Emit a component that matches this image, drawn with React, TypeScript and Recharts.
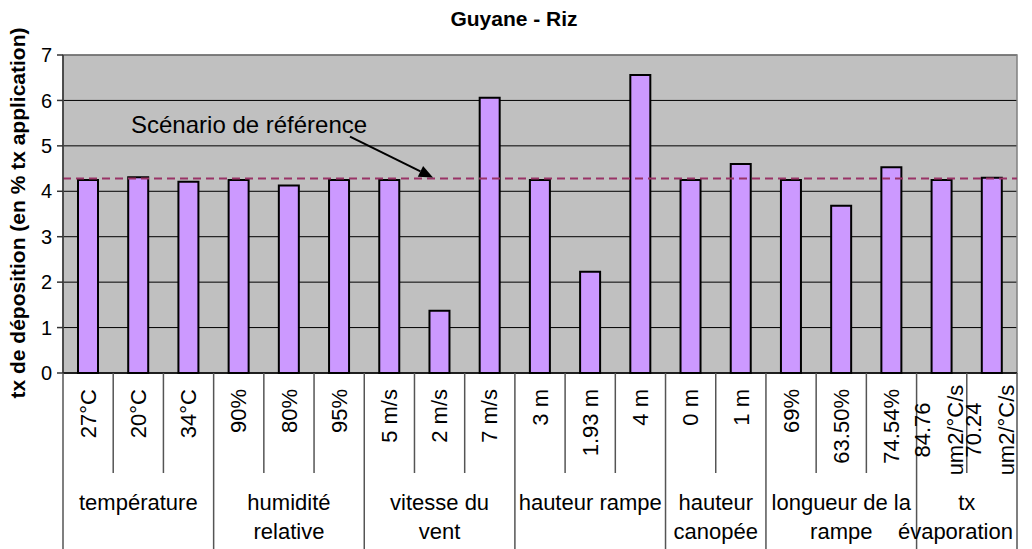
import React from 'react';
import { BarChart, Bar, XAxis, YAxis, CartesianGrid, ReferenceLine, ReferenceArea } from 'recharts';

// category tick labels (one entry per bar, multi-line labels split in arrays)
const categoryLabels: string[][] = [
  ['27°C'], ['20°C'], ['34°C'],
  ['90%'], ['80%'], ['95%'],
  ['5 m/s'], ['2 m/s'], ['7 m/s'],
  ['3 m'], ['1.93 m'], ['4 m'],
  ['0 m'], ['1 m'],
  ['69%'], ['63.50%'], ['74.54%'],
  ['84.76', 'um2/°C/s'], ['70.24', 'um2/°C/s'],
];

// deposition rate
const depositionValues = [4.25, 4.31, 4.21, 4.25, 4.13, 4.25, 4.25, 1.37, 6.06, 4.25, 2.23, 6.56, 4.25, 4.6, 4.25, 3.68, 4.53, 4.25, 4.3];

// parameter groups (second level of the category axis)
const groupLabels: string[][] = [
  ['température'],
  ['humidité', 'relative'],
  ['vitesse du', 'vent'],
  ['hauteur rampe'],
  ['hauteur', 'canopée'],
  ['longueur de la', 'rampe'],
  ['tx', 'évaporation'],
];
const groupSizes = [3, 3, 3, 3, 2, 3, 2];

const yTicks = [0, 1, 2, 3, 4, 5, 6, 7];
const referenceValue = 4.28;

const data = categoryLabels.map((label, i) => ({ name: label.join(' '), value: depositionValues[i] }));

// index of first category of every group
const groupStarts = groupSizes.map((_, g) => groupSizes.slice(0, g).reduce((a, b) => a + b, 0));

const FONT = '"Liberation Sans", Arial, sans-serif';
const WIDTH = 1032;
const HEIGHT = 549;
const MARGIN = { top: 55, right: 15, bottom: 0, left: 0 };
const Y_AXIS_WIDTH = 63;
const X_AXIS_HEIGHT = 176;
const PLOT_RIGHT = WIDTH - MARGIN.right;
const band = (WIDTH - MARGIN.left - MARGIN.right - Y_AXIS_WIDTH) / categoryLabels.length;

const CategoryTick = (props: any) => {
  const { x, y, payload } = props;
  const i = payload.index as number;
  const lines = categoryLabels[i];
  const left = x - band / 2;
  const g = groupStarts.indexOf(i);
  const isLast = i === categoryLabels.length - 1;
  const bottom = y + X_AXIS_HEIGHT;

  return (
    <g>
      <line x1={left} y1={y} x2={left} y2={g >= 0 ? bottom : y + 100} stroke="#555" strokeWidth={1.5} />
      {isLast && <line x1={x + band / 2} y1={y} x2={x + band / 2} y2={bottom} stroke="#555" strokeWidth={1.5} />}
      {lines.length === 1 ? (
        <text
          x={x}
          y={y + 16}
          transform={`rotate(-90 ${x} ${y + 16})`}
          textAnchor="end"
          dy="0.35em"
          fontSize={22}
          fontFamily={FONT}
          fill="#000"
        >
          {lines[0]}
        </text>
      ) : (
        lines.map((line, k) => {
          const lx = x + (k === 0 ? -19 : 14);
          const ly = y + 57;
          return (
            <text
              key={k}
              x={lx}
              y={ly}
              transform={`rotate(-90 ${lx} ${ly})`}
              textAnchor="middle"
              dy="0.35em"
              fontSize={22}
              fontFamily={FONT}
              fill="#000"
            >
              {line}
            </text>
          );
        })
      )}
      {g >= 0 &&
        groupLabels[g].map((line, k) => {
          // keep wide labels inside the chart on the right side
          const halfW = line.length * 5.6;
          const cx = Math.min(left + (groupSizes[g] * band) / 2, PLOT_RIGHT - halfW);
          return (
            <text
              key={`g${k}`}
              x={cx}
              y={y + 137 + k * 29}
              textAnchor="middle"
              fontSize={22}
              fontFamily={FONT}
              fill="#000"
            >
              {line}
            </text>
          );
        })}
    </g>
  );
};

const ScenarioLabel = (props: any) => {
  const { viewBox } = props;
  if (!viewBox) return null;
  const x0 = viewBox.x;
  const ly = viewBox.y;
  // arrow from the text down to the dashed line
  const sx = x0 + 287;
  const sy = ly - 42;
  const ex = x0 + 370;
  const ey = ly - 1;
  const ang = Math.atan2(ey - sy, ex - sx);
  const head = 14;
  const half = 6;
  const bx = ex - head * Math.cos(ang);
  const by = ey - head * Math.sin(ang);
  const p1 = `${bx + half * Math.sin(ang)},${by - half * Math.cos(ang)}`;
  const p2 = `${bx - half * Math.sin(ang)},${by + half * Math.cos(ang)}`;
  return (
    <g>
      <text x={x0 + 68} y={ly - 46} fontSize={24} fontFamily={FONT} fill="#000">
        Scénario de référence
      </text>
      <line x1={sx} y1={sy} x2={bx} y2={by} stroke="#000" strokeWidth={2} />
      <polygon points={`${ex},${ey} ${p1} ${p2}`} fill="#000" />
    </g>
  );
};

const YLabel = (props: any) => {
  const { viewBox } = props;
  const cx = 18;
  const cy = viewBox ? viewBox.y + viewBox.height / 2 - 1 : 213;
  return (
    <text
      x={cx}
      y={cy}
      transform={`rotate(-90 ${cx} ${cy})`}
      textAnchor="middle"
      dy="0.35em"
      fontSize={21}
      fontWeight="bold"
      fontFamily={FONT}
      fill="#000"
    >
      tx de déposition (en % tx application)
    </text>
  );
};

export default function App() {
  return (
    <div style={{ position: 'relative', width: WIDTH, height: HEIGHT, background: '#fff', fontFamily: FONT }}>
      <style>{'body { margin: 0; }'}</style>
      <div
        style={{
          position: 'absolute',
          top: 8,
          left: 0,
          width: 1028,
          textAlign: 'center',
          fontSize: 21,
          lineHeight: '21px',
          fontWeight: 'bold',
        }}
      >
        Guyane - Riz
      </div>
      <BarChart width={WIDTH} height={HEIGHT} data={data} margin={MARGIN}>
        <CartesianGrid vertical={false} stroke="#000" strokeWidth={1} fill="#C0C0C0" />
        <ReferenceArea y1={0} y2={7} fill="none" stroke="#808080" strokeWidth={1.5} ifOverflow="visible" />
        <XAxis
          dataKey="name"
          interval={0}
          height={X_AXIS_HEIGHT}
          tickSize={0}
          tickMargin={0}
          tickLine={false}
          axisLine={{ stroke: '#000', strokeWidth: 1.5 }}
          tick={CategoryTick}
        />
        <YAxis
          width={Y_AXIS_WIDTH}
          domain={[0, 7]}
          ticks={yTicks}
          interval={0}
          tickSize={6}
          tickMargin={5}
          axisLine={{ stroke: '#333', strokeWidth: 1.5 }}
          tickLine={{ stroke: '#333', strokeWidth: 1.5 }}
          tick={{ fontSize: 20, fill: '#000', fontFamily: FONT }}
          label={<YLabel />}
        />
        <Bar
          dataKey="value"
          barSize={20}
          fill="#CC99FF"
          stroke="#000"
          strokeWidth={2}
          isAnimationActive={false}
        />
        <ReferenceLine
          y={referenceValue}
          stroke="#993366"
          strokeDasharray="8 5"
          strokeWidth={2}
          label={<ScenarioLabel />}
        />
      </BarChart>
    </div>
  );
}
